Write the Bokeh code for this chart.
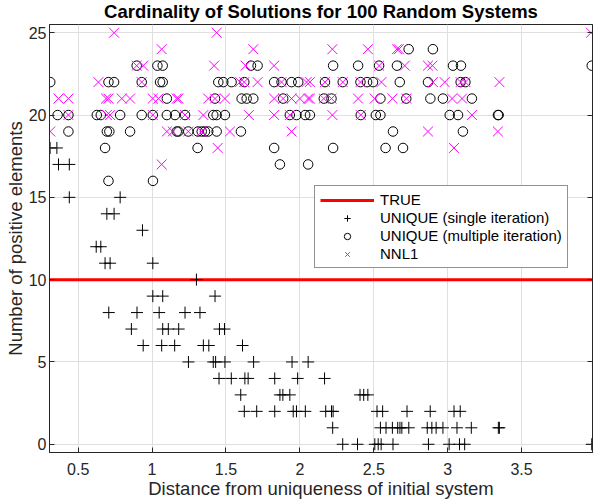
from bokeh.plotting import figure
from bokeh.models import Range1d, FixedTicker, LinearAxis, Legend, LegendItem, CustomJSTickFormatter
from bokeh.embed import file_html
from bokeh.resources import INLINE

title_text = "Cardinality of Solutions for 100 Random Systems"
x_label = "Distance from uniqueness of initial system"
y_label = "Number of positive elements"
true_value = 10
x_ticks = [0.5, 1, 1.5, 2, 2.5, 3, 3.5]
y_ticks = [0, 5, 10, 15, 20, 25]
legend_labels = ["TRUE", "UNIQUE (single iteration)", "UNIQUE (multiple iteration)", "NNL1"]

# UNIQUE (single iteration)
single_x = [0.31, 0.356, 0.367, 0.44, 0.44, 0.784, 0.694, 0.743, 0.935, 0.622, 0.653,
            0.682, 0.716, 1.005, 1.30, 1.005, 1.072, 1.426,
            0.707, 0.898, 1.048, 1.223, 1.324,
            0.86, 1.072, 1.11, 1.18, 1.456, 1.49,
            0.94, 1.065, 1.153, 1.347, 1.384, 1.612,
            1.246, 1.414, 1.43, 1.493, 1.687, 1.947, 2.056,
            1.453, 1.536, 1.628, 1.65, 1.83, 1.985, 2.167,
            1.6, 1.865, 1.885, 1.932, 2.407, 2.432, 2.46,
            1.624, 1.708, 1.83, 1.955, 1.977, 2.037, 2.175, 2.214, 2.225, 2.522, 2.56, 2.725, 2.882, 3.043, 3.085,
            2.222, 2.545, 2.583, 2.626, 2.662, 2.677, 2.69, 2.737, 2.862, 2.893, 2.922, 2.968, 3.063, 3.16, 3.343, 3.35,
            2.29, 2.39, 2.507, 2.53, 2.55, 2.63, 2.87, 3.01, 3.08, 3.115, 3.975]
single_y = [18, 18, 17, 17, 15, 15, 14, 14, 13, 12, 12,
            11, 11, 11, 10, 9, 9, 9,
            8, 8, 8, 8, 8,
            7, 7, 7, 7, 7, 7,
            6, 6, 6, 6, 6, 6,
            5, 5, 5, 5, 5, 5, 5,
            4, 4, 4, 4, 4, 4, 4,
            3, 3, 3, 3, 3, 3, 3,
            2, 2, 2, 2, 2, 2, 2, 2, 2, 2, 2, 2, 2, 2, 2,
            1, 1, 1, 1, 1, 1, 1, 1, 1, 1, 1, 1, 1, 1, 1, 1,
            0, 0, 0, 0, 0, 0, 0, 0, 0, 0, 0]

# UNIQUE (multiple iteration)
multi_x = [2.736, 2.9,
           0.896, 1.036, 1.072, 1.669, 1.714, 2.225, 2.394, 2.536, 2.657, 3.036, 3.09, 3.975,
           0.311, 0.705, 0.743, 0.93, 1.054, 1.072, 1.448, 1.482, 1.538, 1.624, 1.826, 1.876, 1.944, 1.989,
           2.17, 2.29, 2.41, 2.455, 2.495, 2.676, 2.867, 3.088, 3.12,
           1.1, 1.426, 1.606, 1.64, 1.685, 1.887, 2.162, 2.214, 2.545, 2.72, 2.883, 2.968, 3.164,
           0.361, 0.434, 0.626, 0.653, 0.784, 0.93, 1.005, 1.1, 1.155, 1.223, 1.414, 1.437, 1.493, 1.932,
           1.977, 2.036, 2.068, 2.412, 2.514, 2.545, 3.014, 3.07, 3.34, 3.345,
           0.434, 0.694, 0.711, 0.851, 1.167, 1.178, 1.245, 1.31, 1.336, 1.358, 1.38, 1.437, 1.601, 2.63, 3.103,
           0.682, 1.308, 1.826, 2.225, 2.58, 2.698,
           1.865, 2.056,
           0.705, 1.006]
multi_y = [24, 24,
           23, 23, 23, 23, 23, 23, 23, 23, 23, 23, 23, 23,
           22, 22, 22, 22, 22, 22, 22, 22, 22, 22, 22, 22, 22, 22,
           22, 22, 22, 22, 22, 22, 22, 22, 22,
           21, 21, 21, 21, 21, 21, 21, 21, 21, 21, 21, 21, 21,
           20, 20, 20, 20, 20, 20, 20, 20, 20, 20, 20, 20, 20, 20,
           20, 20, 20, 20, 20, 20, 20, 20, 20, 20,
           19, 19, 19, 19, 19, 19, 19, 19, 19, 19, 19, 19, 19, 19, 19,
           18, 18, 18, 18, 18, 18,
           17, 17,
           16, 16]

# NNL1
nnl1_x = [0.743, 1.437, 3.97,
          1.065, 1.685, 2.22, 2.46, 2.657, 2.67,
          0.896, 0.94, 1.42, 1.633, 1.826, 2.536, 2.71, 2.867, 2.897,
          0.637, 0.93, 1.595, 1.624, 1.714, 1.876, 2.045, 2.068, 2.17, 2.29, 2.41, 2.552, 2.9, 2.98, 3.088, 3.12, 3.35,
          0.367, 0.434, 0.689, 0.705, 0.795, 0.851, 1.005, 1.043, 1.167, 1.178, 1.38, 1.426, 1.493, 1.826,
          1.887, 1.944, 2.0, 2.056, 2.068, 2.162, 2.214, 2.394, 2.507, 2.626, 2.72, 3.03, 3.097,
          0.434, 0.694, 0.716, 1.005, 1.223, 1.347, 1.655, 1.826, 1.932, 2.22, 2.412, 3.164,
          0.311, 1.1, 1.14, 1.245, 1.336, 1.527, 1.944, 2.867, 3.34,
          1.444, 3.043,
          1.065]
nnl1_y = [25, 25, 25,
          24, 24, 24, 24, 24, 24,
          23, 23, 23, 23, 23, 23, 23, 23, 23,
          22, 22, 22, 22, 22, 22, 22, 22, 22, 22, 22, 22, 22, 22, 22, 22, 22,
          21, 21, 21, 21, 21, 21, 21, 21, 21, 21, 21, 21, 21, 21,
          21, 21, 21, 21, 21, 21, 21, 21, 21, 21, 21, 21, 21,
          20, 20, 20, 20, 20, 20, 20, 20, 20, 20, 20, 20,
          19, 19, 19, 19, 19, 19, 19, 19, 19,
          18, 18,
          17]

all_x = single_x + multi_x + nnl1_x
x_lo, x_hi = min(all_x) - 0.004, max(all_x) + 0.005
y_lo, y_hi = -0.5, 25.5

FONT = "Liberation Sans"
DARK = "#262626"

p = figure(width=600, height=503, output_backend="svg", toolbar_location=None,
           x_range=Range1d(x_lo, x_hi), y_range=Range1d(y_lo, y_hi),
           min_border_left=49, min_border_right=8, min_border_top=24, min_border_bottom=51)

p.title.text = title_text
p.title.align = "center"
p.title.vertical_align = "top"
p.title.text_font = FONT
p.title.text_font_style = "bold"
p.title.text_font_size = "18.5px"
p.title.text_color = "#000000"
p.title.standoff = 1

p.outline_line_color = DARK
p.outline_line_width = 1
p.background_fill_color = "white"

fmt = CustomJSTickFormatter(code="return tick.toString();")
blank = CustomJSTickFormatter(code="return '';")

for ax, tks in ((p.xaxis[0], x_ticks), (p.yaxis[0], y_ticks)):
    ax.ticker = FixedTicker(ticks=tks)
    ax.formatter = fmt
    ax.major_tick_in = 5
    ax.major_tick_out = 0
    ax.minor_tick_line_color = None
    ax.axis_line_color = DARK
    ax.major_tick_line_color = DARK
    ax.major_label_text_font = FONT
    ax.major_label_text_font_size = "16px"
    ax.major_label_text_color = DARK
    ax.axis_label_text_font = FONT
    ax.axis_label_text_font_size = "18.5px"
    ax.axis_label_text_font_style = "normal"
    ax.axis_label_text_color = DARK

p.xaxis.axis_label = x_label
p.yaxis.axis_label = y_label
p.xaxis.major_label_standoff = 10
p.xaxis.axis_label_standoff = 0
p.yaxis.major_label_standoff = 3
p.yaxis.axis_label_standoff = 0

right_axis = LinearAxis(ticker=FixedTicker(ticks=y_ticks), formatter=blank,
                        major_tick_in=5, major_tick_out=0, minor_tick_line_color=None,
                        axis_line_color=DARK, major_tick_line_color=DARK,
                        major_label_standoff=0, major_label_text_font_size="1px")
p.add_layout(right_axis, "right")

p.xgrid.ticker = FixedTicker(ticks=x_ticks)
p.ygrid.ticker = FixedTicker(ticks=y_ticks)
p.grid.grid_line_color = "#dfdfdf"
p.grid.grid_line_width = 1

r_true = p.line([x_lo, x_hi], [true_value, true_value], line_color="#ff0000", line_width=3)
r_single = p.scatter(single_x, single_y, marker="cross", size=12, line_color="black", line_width=1)
r_multi = p.scatter(multi_x, multi_y, marker="circle", size=9.5, line_color="black",
                    fill_color=None, line_width=1)
r_nnl1 = p.scatter(nnl1_x, nnl1_y, marker="x", size=14, line_color="#ff00ff", line_width=1)

legend = Legend(items=[LegendItem(label=legend_labels[0], renderers=[r_true]),
                       LegendItem(label=legend_labels[1], renderers=[r_single]),
                       LegendItem(label=legend_labels[2], renderers=[r_multi]),
                       LegendItem(label=legend_labels[3], renderers=[r_nnl1])],
                location=(265, 184))
legend.border_line_color = DARK
legend.border_line_width = 1
legend.background_fill_color = "white"
legend.background_fill_alpha = 1
legend.label_text_font = FONT
legend.label_text_font_size = "15px"
legend.label_text_color = "#000000"
legend.glyph_width = 54
legend.glyph_height = 16
legend.label_height = 16
legend.spacing = 1
legend.padding = 5
legend.margin = 0
legend.label_standoff = 6
p.add_layout(legend, "center")

open("out.html", "w").write(file_html(p, INLINE))
